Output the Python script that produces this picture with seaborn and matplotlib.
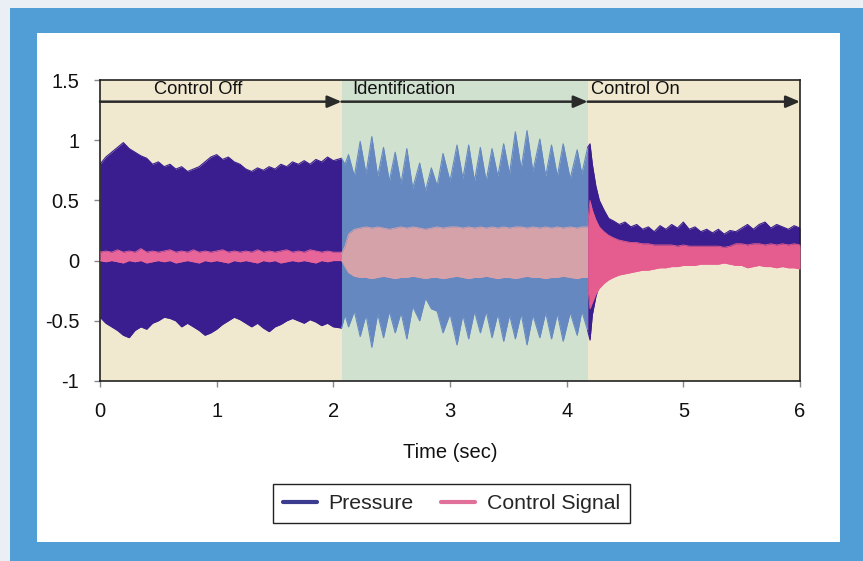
import numpy as np
import pandas as pd
import matplotlib
matplotlib.use("Agg")
import matplotlib.pyplot as plt
from matplotlib.patches import Rectangle
from matplotlib.lines import Line2D
import seaborn as sns

# ---------------- data (envelopes) ----------------
phase_labels = ["Control Off", "Identification", "Control On"]
phase_bounds = [0.0, 2.07, 4.18, 6.0]

off_t = [0.00, 0.05, 0.10, 0.15, 0.20, 0.25, 0.30, 0.35, 0.40, 0.45, 0.50, 0.55, 0.60, 0.65,
         0.70, 0.75, 0.80, 0.85, 0.90, 0.95, 1.00, 1.05, 1.10, 1.15, 1.20, 1.25, 1.30, 1.35,
         1.40, 1.45, 1.50, 1.55, 1.60, 1.65, 1.70, 1.75, 1.80, 1.85, 1.90, 1.95, 2.00, 2.07]
off_pressure_hi = [0.80, 0.86, 0.90, 0.94, 0.98, 0.93, 0.90, 0.87, 0.85, 0.80, 0.82, 0.78, 0.80, 0.76,
                   0.78, 0.74, 0.76, 0.78, 0.82, 0.86, 0.88, 0.84, 0.86, 0.82, 0.80, 0.76, 0.74, 0.77,
                   0.75, 0.78, 0.76, 0.80, 0.78, 0.82, 0.80, 0.83, 0.80, 0.84, 0.82, 0.86, 0.83, 0.85]
off_pressure_lo = [-0.47, -0.52, -0.55, -0.58, -0.62, -0.64, -0.58, -0.55, -0.57, -0.52, -0.50, -0.47, -0.48, -0.50,
                   -0.55, -0.52, -0.55, -0.58, -0.62, -0.60, -0.57, -0.53, -0.50, -0.47, -0.49, -0.52, -0.55, -0.52,
                   -0.56, -0.59, -0.55, -0.53, -0.50, -0.48, -0.50, -0.52, -0.49, -0.51, -0.54, -0.52, -0.55, -0.56]
off_control_hi = [0.07, 0.08, 0.07, 0.09, 0.07, 0.08, 0.07, 0.10, 0.07, 0.08, 0.07, 0.08, 0.09, 0.07,
                  0.08, 0.07, 0.09, 0.07, 0.08, 0.07, 0.08, 0.09, 0.07, 0.08, 0.07, 0.08, 0.07, 0.09,
                  0.07, 0.08, 0.07, 0.08, 0.09, 0.07, 0.08, 0.07, 0.09, 0.08, 0.07, 0.08, 0.07, 0.07]
off_control_lo = [0.00, -0.01, 0.00, -0.01, -0.02, 0.00, -0.01, 0.00, -0.02, -0.01, 0.00, -0.01, 0.00, -0.02,
                  -0.01, 0.00, -0.01, -0.02, 0.00, -0.01, 0.00, -0.01, -0.02, 0.00, -0.01, 0.00, -0.01, -0.02,
                  0.00, -0.01, 0.00, -0.02, -0.01, 0.00, -0.01, 0.00, -0.01, -0.02, 0.00, -0.01, 0.00, 0.00]

id_t = [2.07, 2.10, 2.13, 2.18, 2.23, 2.28, 2.33, 2.38, 2.43, 2.48, 2.53, 2.58, 2.63, 2.68, 2.74,
        2.79, 2.84, 2.89, 2.94, 3.00, 3.06, 3.11, 3.16, 3.21, 3.26, 3.31, 3.36, 3.41, 3.46, 3.51,
        3.56, 3.61, 3.66, 3.71, 3.77, 3.82, 3.87, 3.92, 3.97, 4.03, 4.09, 4.13, 4.18]
id_pressure_hi = [0.85, 0.80, 0.88, 0.70, 0.99, 0.72, 1.03, 0.70, 0.94, 0.66, 0.90, 0.64, 0.93, 0.60, 0.81,
                  0.58, 0.77, 0.62, 0.89, 0.66, 0.96, 0.68, 0.96, 0.66, 0.94, 0.66, 0.93, 0.70, 0.97, 0.72,
                  1.07, 0.76, 1.08, 0.74, 1.01, 0.70, 0.96, 0.70, 0.97, 0.68, 0.92, 0.72, 0.94]
id_pressure_lo = [-0.56, -0.45, -0.55, -0.42, -0.63, -0.45, -0.72, -0.44, -0.64, -0.42, -0.60, -0.43, -0.65, -0.38, -0.50,
                  -0.31, -0.40, -0.42, -0.60, -0.44, -0.70, -0.45, -0.65, -0.42, -0.60, -0.42, -0.64, -0.44, -0.67, -0.45,
                  -0.65, -0.44, -0.70, -0.45, -0.64, -0.43, -0.65, -0.44, -0.67, -0.43, -0.62, -0.42, -0.58]
id_control_hi = [0.06, 0.12, 0.22, 0.26, 0.27, 0.28, 0.27, 0.28, 0.27, 0.26, 0.27, 0.28, 0.27, 0.28, 0.27,
                 0.26, 0.27, 0.28, 0.27, 0.28, 0.28, 0.27, 0.28, 0.27, 0.28, 0.27, 0.28, 0.27, 0.28, 0.27,
                 0.28, 0.28, 0.27, 0.28, 0.27, 0.28, 0.27, 0.28, 0.27, 0.28, 0.27, 0.28, 0.28]
id_control_lo = [0.00, -0.05, -0.10, -0.13, -0.14, -0.14, -0.15, -0.14, -0.13, -0.14, -0.15, -0.14, -0.14, -0.13, -0.14,
                 -0.15, -0.14, -0.14, -0.15, -0.14, -0.13, -0.14, -0.15, -0.14, -0.14, -0.13, -0.14, -0.15, -0.14, -0.14,
                 -0.15, -0.14, -0.13, -0.14, -0.14, -0.15, -0.14, -0.14, -0.13, -0.14, -0.15, -0.14, -0.14]

on_t = [4.18, 4.20, 4.22, 4.25, 4.28, 4.32, 4.36, 4.40, 4.45, 4.50, 4.55, 4.60, 4.65, 4.70, 4.75, 4.80,
        4.85, 4.90, 4.95, 5.00, 5.05, 5.10, 5.15, 5.20, 5.25, 5.30, 5.35, 5.40, 5.45, 5.50, 5.55, 5.60,
        5.65, 5.70, 5.75, 5.80, 5.85, 5.90, 5.95, 6.00]
on_pressure_hi = [0.94, 0.97, 0.80, 0.62, 0.50, 0.42, 0.35, 0.33, 0.30, 0.32, 0.28, 0.30, 0.26, 0.28, 0.24, 0.29,
                  0.26, 0.30, 0.27, 0.32, 0.26, 0.28, 0.24, 0.26, 0.23, 0.26, 0.22, 0.25, 0.24, 0.27, 0.30, 0.26,
                  0.30, 0.32, 0.27, 0.30, 0.28, 0.26, 0.29, 0.27]
on_pressure_lo = [-0.58, -0.66, -0.45, -0.30, -0.20, -0.12, -0.06, -0.02, 0.02, 0.04, 0.05, 0.06, 0.07, 0.08, 0.08, 0.09,
                  0.09, 0.10, 0.10, 0.10, 0.10, 0.10, 0.10, 0.10, 0.10, 0.10, 0.10, 0.10, 0.11, 0.11, 0.11, 0.11,
                  0.11, 0.11, 0.11, 0.11, 0.11, 0.11, 0.11, 0.11]
on_control_hi = [0.30, 0.50, 0.42, 0.34, 0.28, 0.24, 0.21, 0.19, 0.17, 0.16, 0.15, 0.15, 0.14, 0.14, 0.13, 0.13,
                 0.13, 0.13, 0.12, 0.13, 0.12, 0.12, 0.12, 0.12, 0.12, 0.12, 0.11, 0.12, 0.14, 0.14, 0.13, 0.14,
                 0.14, 0.13, 0.14, 0.13, 0.14, 0.13, 0.14, 0.13]
on_control_lo = [-0.20, -0.40, -0.35, -0.28, -0.23, -0.19, -0.16, -0.14, -0.12, -0.11, -0.10, -0.09, -0.08, -0.08, -0.07, -0.06,
                 -0.06, -0.05, -0.05, -0.04, -0.04, -0.04, -0.03, -0.03, -0.03, -0.03, -0.02, -0.03, -0.04, -0.04, -0.06, -0.05,
                 -0.04, -0.05, -0.05, -0.06, -0.05, -0.06, -0.06, -0.07]

x_ticks = [0, 1, 2, 3, 4, 5, 6]
y_ticks = [-1, -0.5, 0, 0.5, 1, 1.5]
y_tick_labels = ["-1", "-0.5", "0", "0.5", "1", "1.5"]
series_names = ["Pressure", "Control Signal"]

# ---------------- styling ----------------
sns.set_theme(style="white")
plt.rcParams["font.family"] = ["Liberation Sans", "DejaVu Sans"]

W, H = 863, 561
fig = plt.figure(figsize=(W / 100, H / 100), dpi=100, facecolor="#eaeef5")

# blue frame and white panel
fig.patches.append(Rectangle((10 / W, 0), 1 - 10 / W, 1 - 8 / H, transform=fig.transFigure,
                             facecolor="#519ed6", edgecolor="none", zorder=-10))
fig.patches.append(Rectangle((37 / W, 1 - 541.5 / H), (840 - 37) / W, (541.5 - 33) / H,
                             transform=fig.transFigure, facecolor="white", edgecolor="none", zorder=-9))

ax = fig.add_axes([100 / W, 1 - 381 / H, 700 / W, 301 / H])
ax.set_facecolor("#f1e9cf")
ax.axvspan(phase_bounds[1], phase_bounds[2], color="#d0e2cf", zorder=0, lw=0)

colors = {
    "off": ("#3a1d8e", "#e8659a"),
    "id": ("#6688c0", "#d6a2aa"),
    "on": ("#3a1d8e", "#e55d8f"),
}
segments = {
    "off": (off_t, off_pressure_hi, off_pressure_lo, off_control_hi, off_control_lo),
    "id": (id_t, id_pressure_hi, id_pressure_lo, id_control_hi, id_control_lo),
    "on": (on_t, on_pressure_hi, on_pressure_lo, on_control_hi, on_control_lo),
}

for key, (t, phi, plo, chi, clo) in segments.items():
    pc, cc = colors[key]
    ax.fill_between(t, plo, phi, color=pc, lw=0, zorder=2)
    df = pd.DataFrame({"t": t, "hi": phi, "lo": plo})
    sns.lineplot(data=df, x="t", y="hi", ax=ax, color=pc, lw=0.8, zorder=2)
    sns.lineplot(data=df, x="t", y="lo", ax=ax, color=pc, lw=0.8, zorder=2)
for key, (t, phi, plo, chi, clo) in segments.items():
    pc, cc = colors[key]
    ax.fill_between(t, clo, chi, color=cc, lw=0, zorder=3)
    df = pd.DataFrame({"t": t, "hi": chi, "lo": clo})
    sns.lineplot(data=df, x="t", y="hi", ax=ax, color=cc, lw=0.6, zorder=3)
    sns.lineplot(data=df, x="t", y="lo", ax=ax, color=cc, lw=0.6, zorder=3)

# phase arrows and labels
arrow_y = 1.32
for a, b in zip(phase_bounds[:-1], phase_bounds[1:]):
    ax.annotate("", xy=(b, arrow_y), xytext=(a, arrow_y),
                arrowprops=dict(arrowstyle="-|>,head_length=0.7,head_width=0.3",
                                color="#2a2a2a", lw=1.8, shrinkA=0, shrinkB=0),
                zorder=5, annotation_clip=False)
ax.text(0.84, 1.425, phase_labels[0], ha="center", va="center", fontsize=13.2, color="#111111", zorder=6)
ax.text(2.16, 1.425, phase_labels[1], ha="left", va="center", fontsize=13.2, color="#111111", zorder=6)
ax.text(4.21, 1.425, phase_labels[2], ha="left", va="center", fontsize=13.2, color="#111111", zorder=6)

ax.set_xlim(0, 6)
ax.set_ylim(-1, 1.5)
ax.set_xticks(x_ticks)
ax.set_xticklabels([str(v) for v in x_ticks], fontsize=14.5)
ax.set_yticks(y_ticks)
ax.set_yticklabels(y_tick_labels, fontsize=14.5)
ax.tick_params(axis="x", direction="out", length=4, width=1, color="#888888",
               bottom=True, pad=11, labelcolor="#111111")
ax.tick_params(axis="y", direction="out", length=4, width=1, color="#888888",
               left=True, pad=11, labelcolor="#111111")
ax.set_xlabel("Time (sec)", fontsize=14.5, labelpad=16, color="#111111")
ax.set_ylabel("")
for s in ax.spines.values():
    s.set_visible(True)
    s.set_color("#222222")
    s.set_linewidth(1.2)

handles = [Line2D([0], [0], color="#3b3b8f", lw=3),
           Line2D([0], [0], color="#e0709a", lw=3)]
leg = fig.legend(handles, series_names, loc="center", bbox_to_anchor=(451.5 / W, 1 - 503.5 / H),
                 ncol=2, fontsize=15.3, frameon=True, fancybox=False, edgecolor="#222222",
                 framealpha=1, handlelength=1.6, columnspacing=1.3, borderpad=0.45,
                 handletextpad=0.55, borderaxespad=0)
leg.get_frame().set_linewidth(1.0)

fig.savefig("out.png", dpi=100, facecolor=fig.get_facecolor())
